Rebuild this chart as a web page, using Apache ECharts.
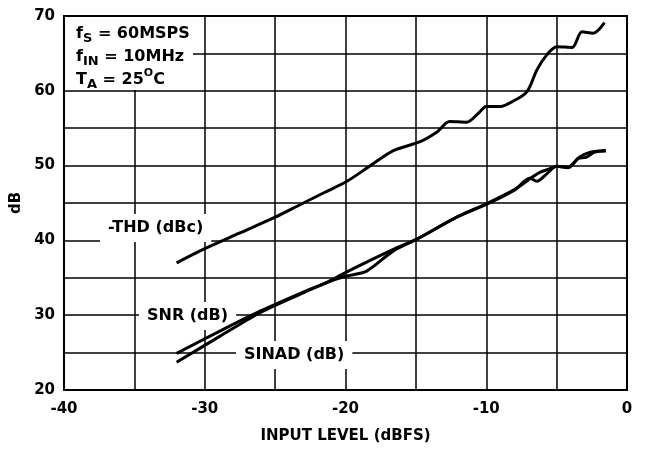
<!DOCTYPE html>
<html>
<head>
<meta charset="utf-8">
<script src="https://cdn.jsdelivr.net/npm/echarts@6/dist/echarts.min.js"></script>
<style>
  html, body { margin: 0; padding: 0; background: #fff; }
  #chart { width: 652px; height: 449px; }
</style>
</head>
<body>
<div id="chart"></div>
<script>
// values
var thdX = [-32, -30, -27.5, -25, -23.2, -21.5, -19.9, -18.3, -16.6, -14.7, -13.5, -12.6, -11.4, -10.5, -10.0, -9.0, -8.1, -7.1, -6.4, -5.7, -5.0, -3.9, -3.2, -2.4, -1.6];
var thdY = [37.0, 38.9, 41.0, 43.1, 44.8, 46.4, 47.9, 49.9, 52.0, 53.2, 54.5, 55.9, 55.8, 57.1, 57.9, 57.9, 58.6, 59.9, 62.8, 64.8, 65.9, 65.8, 67.9, 67.7, 69.1];

var snrX = [-32, -29, -26, -23, -21.3, -20, -18.5, -16.6, -15, -12, -10, -8, -6.7, -6.2, -5.6, -5.0, -4.2, -3.4, -2.6, -1.5];
var snrY = [24.9, 27.8, 30.6, 33.1, 34.4, 35.7, 37.1, 38.8, 40.1, 43.2, 44.9, 46.8, 48.5, 49.1, 49.5, 49.9, 49.8, 51.1, 51.8, 52.0];

var sinadX = [-32, -29, -26, -23, -21.3, -20, -18.5, -16.6, -15, -12, -10, -8, -6.9, -6.4, -5.7, -5.0, -4.2, -3.4, -2.9, -2.3, -1.5];
var sinadY = [23.7, 27.1, 30.4, 33.0, 34.4, 35.2, 35.9, 38.6, 40.1, 43.2, 44.8, 46.7, 48.3, 47.9, 48.9, 49.9, 49.7, 51.0, 51.1, 51.8, 52.0];

var seriesNames = ['-THD (dBc)', 'SNR (dB)', 'SINAD (dB)'];

function pairs(xs, ys) {
  var out = [];
  for (var i = 0; i < xs.length; i++) out.push([xs[i], ys[i]]);
  return out;
}

var FONT = '"DejaVu Sans", "Liberation Sans", Arial, sans-serif';

function lineSeries(name, xs, ys) {
  return {
    name: name,
    type: 'line',
    data: pairs(xs, ys),
    smooth: 0.3,
    showSymbol: false,
    lineStyle: { color: '#000', width: 3 },
    z: 5
  };
}

// white-backed labels sit over the grid but under the curves
function boxLabel(text, x, y) {
  return {
    type: 'text',
    left: x, top: y, z: 1,
    style: {
      text: text, fill: '#000',
      font: 'bold 16px ' + FONT,
      backgroundColor: '#fff',
      padding: [6, 8, 6, 8]
    }
  };
}

var chart = echarts.init(document.getElementById('chart'));
chart.setOption({
  animation: false,
  backgroundColor: '#fff',
  grid: {
    left: 64, right: 25, top: 16, bottom: 58,
    show: true, borderColor: '#000', borderWidth: 2
  },
  xAxis: {
    type: 'value', min: -40, max: 0, interval: 5,
    name: 'INPUT LEVEL (dBFS)', nameLocation: 'middle', nameGap: 39,
    nameTextStyle: { color: '#000', fontWeight: 'bold', fontSize: 15, fontFamily: FONT },
    axisLine: { show: false },
    axisTick: { show: false },
    axisLabel: {
      color: '#000', fontWeight: 'bold', fontSize: 15, fontFamily: FONT, margin: 12,
      formatter: function (v) { return v % 10 === 0 ? String(v) : ''; }
    },
    splitLine: { show: true, lineStyle: { color: '#000', width: 1.5 } }
  },
  yAxis: {
    type: 'value', min: 20, max: 70, interval: 5,
    name: 'dB', nameLocation: 'middle', nameGap: 38,
    nameTextStyle: { color: '#000', fontWeight: 'bold', fontSize: 15, fontFamily: FONT },
    axisLine: { show: false },
    axisTick: { show: false },
    axisLabel: {
      color: '#000', fontWeight: 'bold', fontSize: 15, fontFamily: FONT, margin: 9,
      formatter: function (v) { return v % 10 === 0 ? String(v) : ''; }
    },
    splitLine: { show: true, lineStyle: { color: '#000', width: 1.5 } }
  },
  series: [
    lineSeries(seriesNames[0], thdX, thdY),
    lineSeries(seriesNames[1], snrX, snrY),
    lineSeries(seriesNames[2], sinadX, sinadY)
  ],
  graphic: [
    { type: 'rect', left: 65, top: 17, z: 1, shape: { width: 128, height: 73 }, style: { fill: '#fff' } },
    {
      type: 'text', left: 76, top: 22, z: 2,
      style: {
        text: 'f{sub|S} = 60MSPS\nf{sub|IN} = 10MHz\nT{sub|A} = 25{sup|O}C',
        fill: '#000',
        font: 'bold 16px ' + FONT,
        lineHeight: 23,
        rich: {
          sub: { fontSize: 13, fontWeight: 'bold', fontFamily: FONT, fill: '#000', verticalAlign: 'bottom', padding: [6, 0, 0, 0] },
          sup: { fontSize: 11, fontWeight: 'bold', fontFamily: FONT, fill: '#000', verticalAlign: 'top', padding: [0, 0, 8, 0] }
        }
      }
    },
    boxLabel(seriesNames[0], 100, 214),
    boxLabel(seriesNames[1], 139, 302),
    boxLabel(seriesNames[2], 236, 341)
  ]
});
</script>
</body>
</html>
